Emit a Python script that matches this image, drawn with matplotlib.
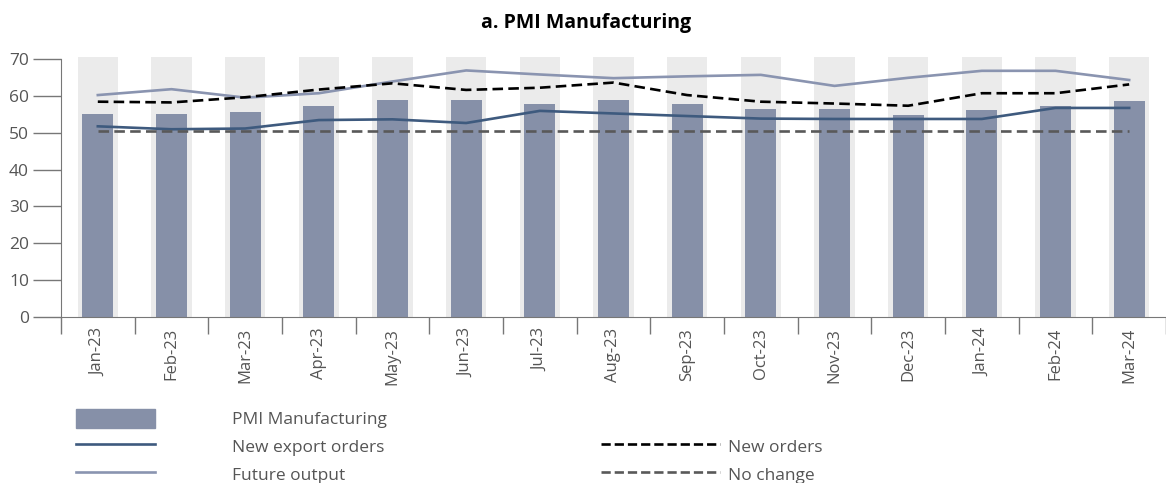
import numpy as np
import matplotlib.pyplot as plt
from matplotlib.patches import Patch
from matplotlib.lines import Line2D

plt.rcParams['font.family'] = ['Open Sans', 'DejaVu Sans']

# data
months = ["Jan-23", "Feb-23", "Mar-23", "Apr-23", "May-23", "Jun-23", "Jul-23", "Aug-23",
          "Sep-23", "Oct-23", "Nov-23", "Dec-23", "Jan-24", "Feb-24", "Mar-24"]
pmi = [55.1, 55.1, 55.7, 57.3, 58.9, 58.9, 57.9, 58.9, 57.9, 56.5, 56.5, 54.9, 56.2, 57.3, 58.7]
export_orders = [51.8, 51.0, 51.2, 53.5, 53.7, 52.7, 56.0, 55.3, 54.6, 53.9, 53.8, 53.8, 53.8, 56.8, 56.8]
future_output = [60.3, 61.9, 59.6, 60.8, 64.0, 67.0, 65.9, 64.9, 65.4, 65.8, 62.8, 65.0, 66.9, 66.9, 64.4]
new_orders = [58.5, 58.3, 59.7, 61.8, 63.5, 61.7, 62.3, 63.7, 60.3, 58.5, 58.0, 57.4, 60.8, 60.8, 63.2]
no_change = [50.6] * 15

bar_col = "#8690a8"
export_col = "#3e5a7e"
future_col = "#8a94b0"
grey_txt = "#555555"

x = np.arange(len(months))

fig = plt.figure(figsize=(11.66, 4.83), dpi=100)
ax = fig.add_axes([0.0523, 0.3443, 0.9477, 0.538])

ymax = 70.7
ax.bar(x, [ymax] * len(x), width=0.55, color="#ebebeb", zorder=0)
ax.bar(x, pmi, width=0.42, color=bar_col, zorder=1)
ax.plot(x, export_orders, color=export_col, lw=1.9, zorder=3)
ax.plot(x, future_output, color=future_col, lw=1.9, zorder=3)
ax.plot(x, new_orders, color="black", lw=1.9, ls=(0, (4, 2)), zorder=3)
ax.plot(x, no_change, color="#595959", lw=1.9, ls=(0, (4, 2)), zorder=3)

ax.set_xlim(-0.5, 14.45)
ax.set_ylim(0, ymax)
ax.set_yticks(range(0, 71, 10))
ax.set_xticks(x)
ax.set_xticklabels(months, rotation=90)
ax.set_xticks(np.arange(-0.5, 14.6, 1), minor=True)
ax.tick_params(axis="x", which="major", length=0, pad=8, labelsize=12, labelcolor=grey_txt)
ax.tick_params(axis="x", which="minor", length=12, color="#777777", width=1)
ax.tick_params(axis="y", length=20, color="#777777", width=1, pad=3, labelsize=12.5, labelcolor=grey_txt)

for s in ["top", "right"]:
    ax.spines[s].set_visible(False)
ax.spines["left"].set_bounds(0, 70)
ax.spines["left"].set_color("#777777")
ax.spines["bottom"].set_color("#777777")

fig.text(0.503, 0.953, "a. PMI Manufacturing", ha="center", va="center",
         fontsize=14, fontweight="bold", color="black")

h1 = [Patch(color=bar_col),
      Line2D([], [], color=export_col, lw=1.9),
      Line2D([], [], color=future_col, lw=1.9)]
fig.legend(h1, ["PMI Manufacturing", "New export orders", "Future output"],
           loc="upper left", bbox_to_anchor=(0.065, 0.154), frameon=False,
           fontsize=12.5, labelcolor=grey_txt, handlelength=4.54, handleheight=1.35,
           handletextpad=4.43, labelspacing=0.48, borderpad=0, borderaxespad=0)
h2 = [Line2D([], [], color="black", lw=1.9, ls=(0, (3.5, 1.5))),
      Line2D([], [], color="#595959", lw=1.9, ls=(0, (3.5, 1.5)))]
fig.legend(h2, ["New orders", "No change"],
           loc="upper left", bbox_to_anchor=(0.5154, 0.0963), frameon=False,
           fontsize=12.5, labelcolor=grey_txt, handlelength=6.84, handleheight=1.35,
           handletextpad=0.46, labelspacing=0.48, borderpad=0, borderaxespad=0)

fig.savefig("out.png", dpi=100)
